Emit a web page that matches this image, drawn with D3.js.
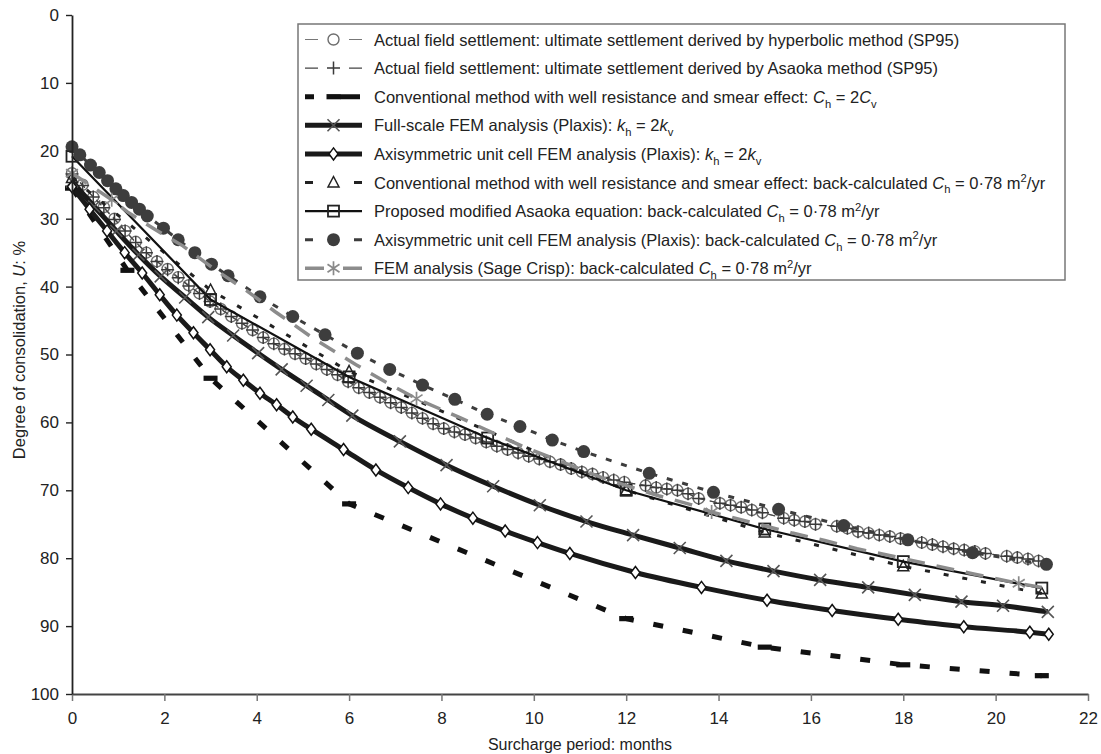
<!DOCTYPE html>
<html><head><meta charset="utf-8">
<script src="https://cdn.jsdelivr.net/npm/d3@7"></script>
<style>
body{margin:0;background:#fff}
svg{display:block}
text{font-family:"Liberation Sans",Arial,Helvetica,sans-serif;fill:#222}
</style>
</head><body>
<svg id="chart" width="1101" height="754"></svg>
<script>
// ---------- DATA (t = months, U = degree of consolidation %) ----------
const xTicks = [0,2,4,6,8,10,12,14,16,18,20,22];
const yTicks = [0,10,20,30,40,50,60,70,80,90,100];

// Actual field settlement – hyperbolic method (SP95)
const fieldHyperbolic = [
 [0,23.3],[0.23,25.0],[0.46,26.8],[0.69,28.3],[0.92,30.0],[1.15,31.8],[1.38,33.4],[1.61,35.0],[1.84,36.3],
 [2.07,37.4],[2.3,38.6],[2.53,39.8],[2.76,41.0],[2.99,42.2],[3.22,43.3],[3.45,44.4],[3.68,45.4],[3.91,46.4],
 [4.14,47.5],[4.37,48.4],[4.6,49.2],[4.83,49.9],[5.06,50.6],[5.29,51.4],[5.52,52.2],[5.75,53.0],[5.98,54.0],
 [6.21,54.9],[6.44,55.6],[6.67,56.3],[6.9,57.1],[7.13,57.8],[7.36,58.6],[7.59,59.4],[7.82,60.2],[8.05,60.9],
 [8.28,61.4],[8.51,61.8],[8.74,62.3],[8.97,62.9],[9.2,63.5],[9.43,64.0],[9.66,64.5],[9.89,65.0],[10.12,65.4],
 [10.35,65.8],[10.58,66.2],[10.81,66.8],[11.04,67.3],[11.27,67.6],[11.5,68.1],[11.73,68.5],[11.96,68.8],
 [12.42,69.3],[12.65,69.6],[12.88,69.8],[13.11,70.0],[13.34,70.5],[13.57,71.2],[14.03,71.9],[14.26,72.2],
 [14.49,72.5],[14.72,72.9],[14.95,73.3],[15.41,74.1],[15.64,74.4],[15.87,74.6],[16.1,75.0],[16.56,75.3],
 [16.79,75.6],[17.02,76.1],[17.25,76.3],[17.48,76.6],[17.71,76.8],[17.94,77.1],[18.4,77.7],[18.63,78.0],
 [18.86,78.3],[19.09,78.6],[19.32,78.8],[19.55,79.0],[19.78,79.3],[20.24,79.7],[20.47,79.9],[20.7,80.1],[20.93,80.4]
];
// Actual field settlement – Asaoka method (SP95)
const fieldAsaoka = [
 [0,23.4],[0.23,25.1],[0.46,26.8],[0.69,28.4],[0.92,30.1],[1.15,31.8],[1.38,33.5],[1.61,35.0],[1.84,36.3],
 [2.07,37.5],[2.3,38.7],[2.53,39.9],[2.76,41.0],[2.99,42.2],[3.22,43.3],[3.45,44.4],[3.68,45.4],[3.91,46.4],
 [4.14,47.5],[4.37,48.4],[4.6,49.2],[4.83,49.9],[5.06,50.6],[5.29,51.4],[5.52,52.2],[5.75,53.0],[5.98,54.0],
 [6.21,54.9],[6.44,55.6],[6.67,56.3],[6.9,57.1],[7.13,57.8],[7.36,58.6],[7.59,59.4],[7.82,60.2],[8.05,60.9],
 [8.28,61.4],[8.51,61.8],[8.74,62.3],[8.97,62.9],[9.2,63.5],[9.43,64.0],[9.66,64.5],[9.89,65.0],[10.12,65.4],
 [10.35,65.8],[10.58,66.2],[10.81,66.8],[11.04,67.3],[11.27,67.6],[11.5,68.1],[11.73,68.5],[11.96,68.8],
 [12.42,69.3],[12.65,69.6],[12.88,69.8],[13.11,70.0],[13.34,70.5],[13.57,71.2],[14.03,71.9],[14.26,72.2],
 [14.49,72.5],[14.72,72.9],[14.95,73.3],[15.41,74.1],[15.64,74.4],[15.87,74.6],[16.1,75.0],[16.56,75.3],
 [16.79,75.6],[17.02,76.1],[17.25,76.3],[17.48,76.6],[17.71,76.8],[17.94,77.1],[18.4,77.7],[18.63,78.0],
 [18.86,78.3],[19.09,78.6],[19.32,78.8],[19.55,79.0],[19.78,79.3],[20.24,79.7],[20.47,79.9],[20.7,80.1],[20.93,80.4]
];
// Conventional method, Ch = 2Cv
const conventional2Cv = [[0,25.5],[1.2,37.6],[3,53.5],[6,72.0],[12,88.9],[15,93.1],[18,95.7],[21,97.3]];
// Full-scale FEM (Plaxis) kh = 2kv
const fullScaleFEM = [
 [0,24.5],[0.48,28.2],[0.96,31.8],[1.44,35.3],[1.92,38.5],[2.45,41.6],[2.95,44.5],[3.49,47.2],[4.03,49.8],
 [4.54,52.2],[5.08,54.6],[5.55,56.7],[6.07,59.0],[7.1,62.8],[8.11,66.3],[9.12,69.4],[10.13,72.2],[11.14,74.6],
 [12.15,76.6],[13.16,78.5],[14.17,80.4],[15.19,81.9],[16.2,83.2],[17.24,84.3],[18.25,85.4],[19.26,86.4],
 [20.16,87.0],[21.13,87.9]
];
// Axisymmetric unit cell FEM (Plaxis) kh = 2kv
const unitCellFEM = [
 [0,25.3],[0.38,28.6],[0.76,31.8],[1.14,35.0],[1.52,38.0],[1.9,41.2],[2.27,44.2],[2.63,46.8],[2.99,49.3],
 [3.35,51.8],[3.71,53.8],[4.07,55.7],[4.43,57.4],[4.78,59.2],[5.18,61.0],[5.88,64.0],[6.58,67.0],[7.28,69.6],
 [7.98,72.0],[8.68,74.1],[9.38,76.0],[10.08,77.7],[10.78,79.3],[12.2,82.1],[13.63,84.3],[15.05,86.2],
 [16.46,87.7],[17.89,89.0],[19.31,90.1],[20.74,90.9],[21.15,91.2]
];
// Conventional method, back-calculated Ch = 0.78 m2/yr
const conventionalBack = [[0,24.0],[3,40.5],[6,52.5],[12,70.0],[15,76.2],[18,81.2],[21,85.2]];
// Proposed modified Asaoka equation
const proposedAsaoka = [[0,20.8],[3,41.9],[6,53.3],[9,62.3],[12,70.0],[15,75.7],[18,80.5],[21,84.4]];
// Axisymmetric unit cell FEM (Plaxis), back-calculated
const unitCellBack = [
 [0,19.4],[0.17,20.6],[0.4,22.1],[0.59,23.2],[0.77,24.4],[0.95,25.6],[1.11,26.6],[1.29,27.6],[1.46,28.6],
 [1.63,29.6],[1.98,31.4],[2.3,33.1],[2.66,35.0],[3.02,36.7],[3.38,38.4],[4.07,41.5],[4.78,44.4],[5.48,47.1],
 [6.18,49.8],[6.88,52.2],[7.59,54.5],[8.29,56.6],[8.99,58.8],[9.7,60.6],[10.4,62.6],[11.08,64.3],[12.5,67.5],
 [13.89,70.3],[15.3,72.8],[16.71,75.2],[18.1,77.3],[19.5,79.2],[21.1,80.9]
];
// FEM (Sage Crisp), back-calculated
const sageCrispLine = [
 [0,23.3],[0.86,27.2],[1.2,29.0],[1.8,31.6],[2.4,34.0],[3.1,37.5],[3.8,40.7],[4.4,43.7],[5.2,47.5],[6.15,51.5],
 [6.8,54.1],[7.46,56.5],[8.4,59.3],[9.1,61.5],[9.75,63.5],[10.45,65.4],[11.5,68.2],[12.7,70.8],[13.4,72.1],
 [13.85,73.2],[15.6,76.3],[16.3,77.4],[17.0,78.6],[17.7,79.6],[18.5,80.8],[19.5,82.3],[20.5,83.7],[21.0,84.3]
];
const sageCrispMarkers = [[0,23.3],[0.86,27.2],[7.46,56.5],[13.85,73.2],[20.5,83.7]];

const legendLabels = [
 [["Actual field settlement: ultimate settlement derived by hyperbolic method (SP95)"]],
 [["Actual field settlement: ultimate settlement derived by Asaoka method (SP95)"]],
 [["Conventional method with well resistance and smear effect: "],["C","i"],["h","sub"],[" = 2"],["C","i"],["v","sub"]],
 [["Full-scale FEM analysis (Plaxis): "],["k","i"],["h","sub"],[" = 2"],["k","i"],["v","sub"]],
 [["Axisymmetric unit cell FEM analysis (Plaxis): "],["k","i"],["h","sub"],[" = 2"],["k","i"],["v","sub"]],
 [["Conventional method with well resistance and smear effect: back-calculated "],["C","i"],["h","sub"],[" = 0·78 m"],["2","sup"],["/yr"]],
 [["Proposed modified Asaoka equation: back-calculated "],["C","i"],["h","sub"],[" = 0·78 m"],["2","sup"],["/yr"]],
 [["Axisymmetric unit cell FEM analysis (Plaxis): back-calculated "],["C","i"],["h","sub"],[" = 0·78 m"],["2","sup"],["/yr"]],
 [["FEM analysis (Sage Crisp): back-calculated "],["C","i"],["h","sub"],[" = 0·78 m"],["2","sup"],["/yr"]]
];
const xTitle = "Surcharge period: months";
const yTitle = [["Degree of consolidation, "],["U","i"],[": %"]];

// ---------- CHART ----------
const svg = d3.select("#chart");
const x = d3.scaleLinear().domain([0,22]).range([72,1088]);
const y = d3.scaleLinear().domain([0,100]).range([15,694]);

const mk = {
  openCircle: g => g.append("circle").attr("r",5.5).attr("fill","none").attr("stroke","#6e6e6e").attr("stroke-width",1.4),
  plus: g => g.append("path").attr("d","M-6.5,0H6.5M0,-6.5V6.5").attr("stroke","#3a3a3a").attr("stroke-width",1.5),
  bar: g => g.append("rect").attr("x",-7).attr("y",-2.6).attr("width",14).attr("height",5.2).attr("fill","#111"),
  cross: g => g.append("path").attr("d","M-6,-6L6,6M-6,6L6,-6").attr("stroke","#555").attr("stroke-width",1.6),
  diamond: g => g.append("path").attr("d","M0,-6L4.5,0L0,6L-4.5,0Z").attr("fill","#fff").attr("stroke","#111").attr("stroke-width",1.5),
  triangle: g => g.append("path").attr("d","M0,-6L5.5,4.5H-5.5Z").attr("fill","none").attr("stroke","#222").attr("stroke-width",1.5),
  square: g => g.append("rect").attr("x",-5.5).attr("y",-5.5).attr("width",11).attr("height",11).attr("fill","none").attr("stroke","#222").attr("stroke-width",1.8),
  dot: g => g.append("circle").attr("r",6.5).attr("fill","#3d3d3d"),
  asterisk: g => g.append("path").attr("d","M0,-7V7M-6,-4L6,4M-6,4L6,-4").attr("stroke","#8a8a8a").attr("stroke-width",1.7)
};

const series = [
 {line:fieldHyperbolic, pts:fieldHyperbolic, stroke:"#777", w:1.2, dash:"7,5", m:"openCircle", curve:d3.curveLinear},
 {line:fieldAsaoka, pts:fieldAsaoka, stroke:"#444", w:1.2, dash:"7,5", m:"plus", curve:d3.curveLinear},
 {line:conventional2Cv, pts:conventional2Cv, stroke:"#111", w:5, dash:"10,20", m:"bar", curve:d3.curveLinear},
 {line:fullScaleFEM, pts:fullScaleFEM, stroke:"#1a1a1a", w:5, dash:null, m:"cross", curve:d3.curveMonotoneX},
 {line:unitCellFEM, pts:unitCellFEM, stroke:"#1a1a1a", w:5, dash:null, m:"diamond", curve:d3.curveMonotoneX},
 {line:conventionalBack, pts:conventionalBack, stroke:"#222", w:3, dash:"5,14", m:"triangle", curve:d3.curveLinear},
 {line:proposedAsaoka, pts:proposedAsaoka, stroke:"#111", w:2.2, dash:null, m:"square", curve:d3.curveLinear},
 {line:unitCellBack, pts:unitCellBack, stroke:"#3d3d3d", w:3, dash:"6,10", m:"dot", curve:d3.curveLinear},
 {line:sageCrispLine, pts:sageCrispMarkers, stroke:"#8c8c8c", w:3.5, dash:"18,12", m:"asterisk", curve:d3.curveLinear}
];
// legend-only dash patterns (dash – marker – dash look)
const legendDash = ["13,31,13","13,31,13","9,26,20","","","8,41,8","","8,41,8","19,19,19"];

const plot = svg.append("g");
series.forEach(s => {
  const gen = d3.line().x(d=>x(d[0])).y(d=>y(d[1])).curve(s.curve);
  plot.append("path").datum(s.line).attr("d",gen).attr("fill","none")
    .attr("stroke",s.stroke).attr("stroke-width",s.w).attr("stroke-dasharray",s.dash);
  const mg = plot.append("g");
  s.pts.forEach(p => { const g = mg.append("g").attr("transform",`translate(${x(p[0])},${y(p[1])})`); mk[s.m](g); });
});

// Axes
const xAxis = svg.append("g").attr("transform",`translate(0,${y(100)})`)
  .call(d3.axisBottom(x).tickValues(xTicks).tickSize(7).tickSizeOuter(0).tickPadding(11));
xAxis.select(".domain").attr("stroke","#444").attr("stroke-width",1.8);
xAxis.selectAll(".tick line").attr("stroke","#777").attr("stroke-width",1.5);
xAxis.selectAll("text").attr("font-size",17).attr("fill","#222").attr("font-family","Liberation Sans, Arial, sans-serif");

const yAxis = svg.append("g").attr("transform",`translate(${x(0)},0)`)
  .call(d3.axisLeft(y).tickValues(yTicks).tickSize(6).tickSizeOuter(0).tickPadding(7));
yAxis.select(".domain").attr("stroke","#222").attr("stroke-width",1.8);
yAxis.selectAll(".tick line").attr("stroke","#222").attr("stroke-width",1.4);
yAxis.selectAll("text").attr("font-size",17).attr("fill","#222").attr("font-family","Liberation Sans, Arial, sans-serif");

// rich text helper: italic, subscript and superscript runs
function rich(textSel, segs, fs){
  let cur = 0;
  segs.forEach(seg => {
    const [t, st] = seg;
    const target = st === "sub" ? fs*0.3 : st === "sup" ? -fs*0.38 : 0;
    const ts = textSel.append("tspan").text(t).attr("font-size", (st==="sub"||st==="sup") ? fs*0.68 : fs);
    if (target !== cur) ts.attr("dy", target - cur);
    cur = target;
    if (st === "i") ts.attr("font-style","italic");
  });
}

// Axis titles
svg.append("text").attr("x",580).attr("y",750).attr("text-anchor","middle").attr("font-size",16).text(xTitle);
const yt = svg.append("text").attr("transform","translate(25,350) rotate(-90)").attr("text-anchor","middle").attr("font-size",16.5);
rich(yt, yTitle, 16.5);

// Legend
const lg = svg.append("g");
lg.append("rect").attr("x",298).attr("y",24).attr("width",767).attr("height",256)
  .attr("fill","#fff").attr("stroke","#777").attr("stroke-width",1.5);
const lfs = 16.5;
series.forEach((s,i) => {
  const ry = 39.5 + i*28.6;
  lg.append("line").attr("x1",305).attr("x2",362).attr("y1",ry).attr("y2",ry)
    .attr("stroke",s.stroke).attr("stroke-width",s.w).attr("stroke-dasharray",legendDash[i] || null);
  const g = lg.append("g").attr("transform",`translate(333.5,${ry})`); mk[s.m](g);
  const t = lg.append("text").attr("x",374).attr("y",ry+6).attr("font-size",lfs);
  rich(t, legendLabels[i], lfs);
});
</script>
</body></html>
